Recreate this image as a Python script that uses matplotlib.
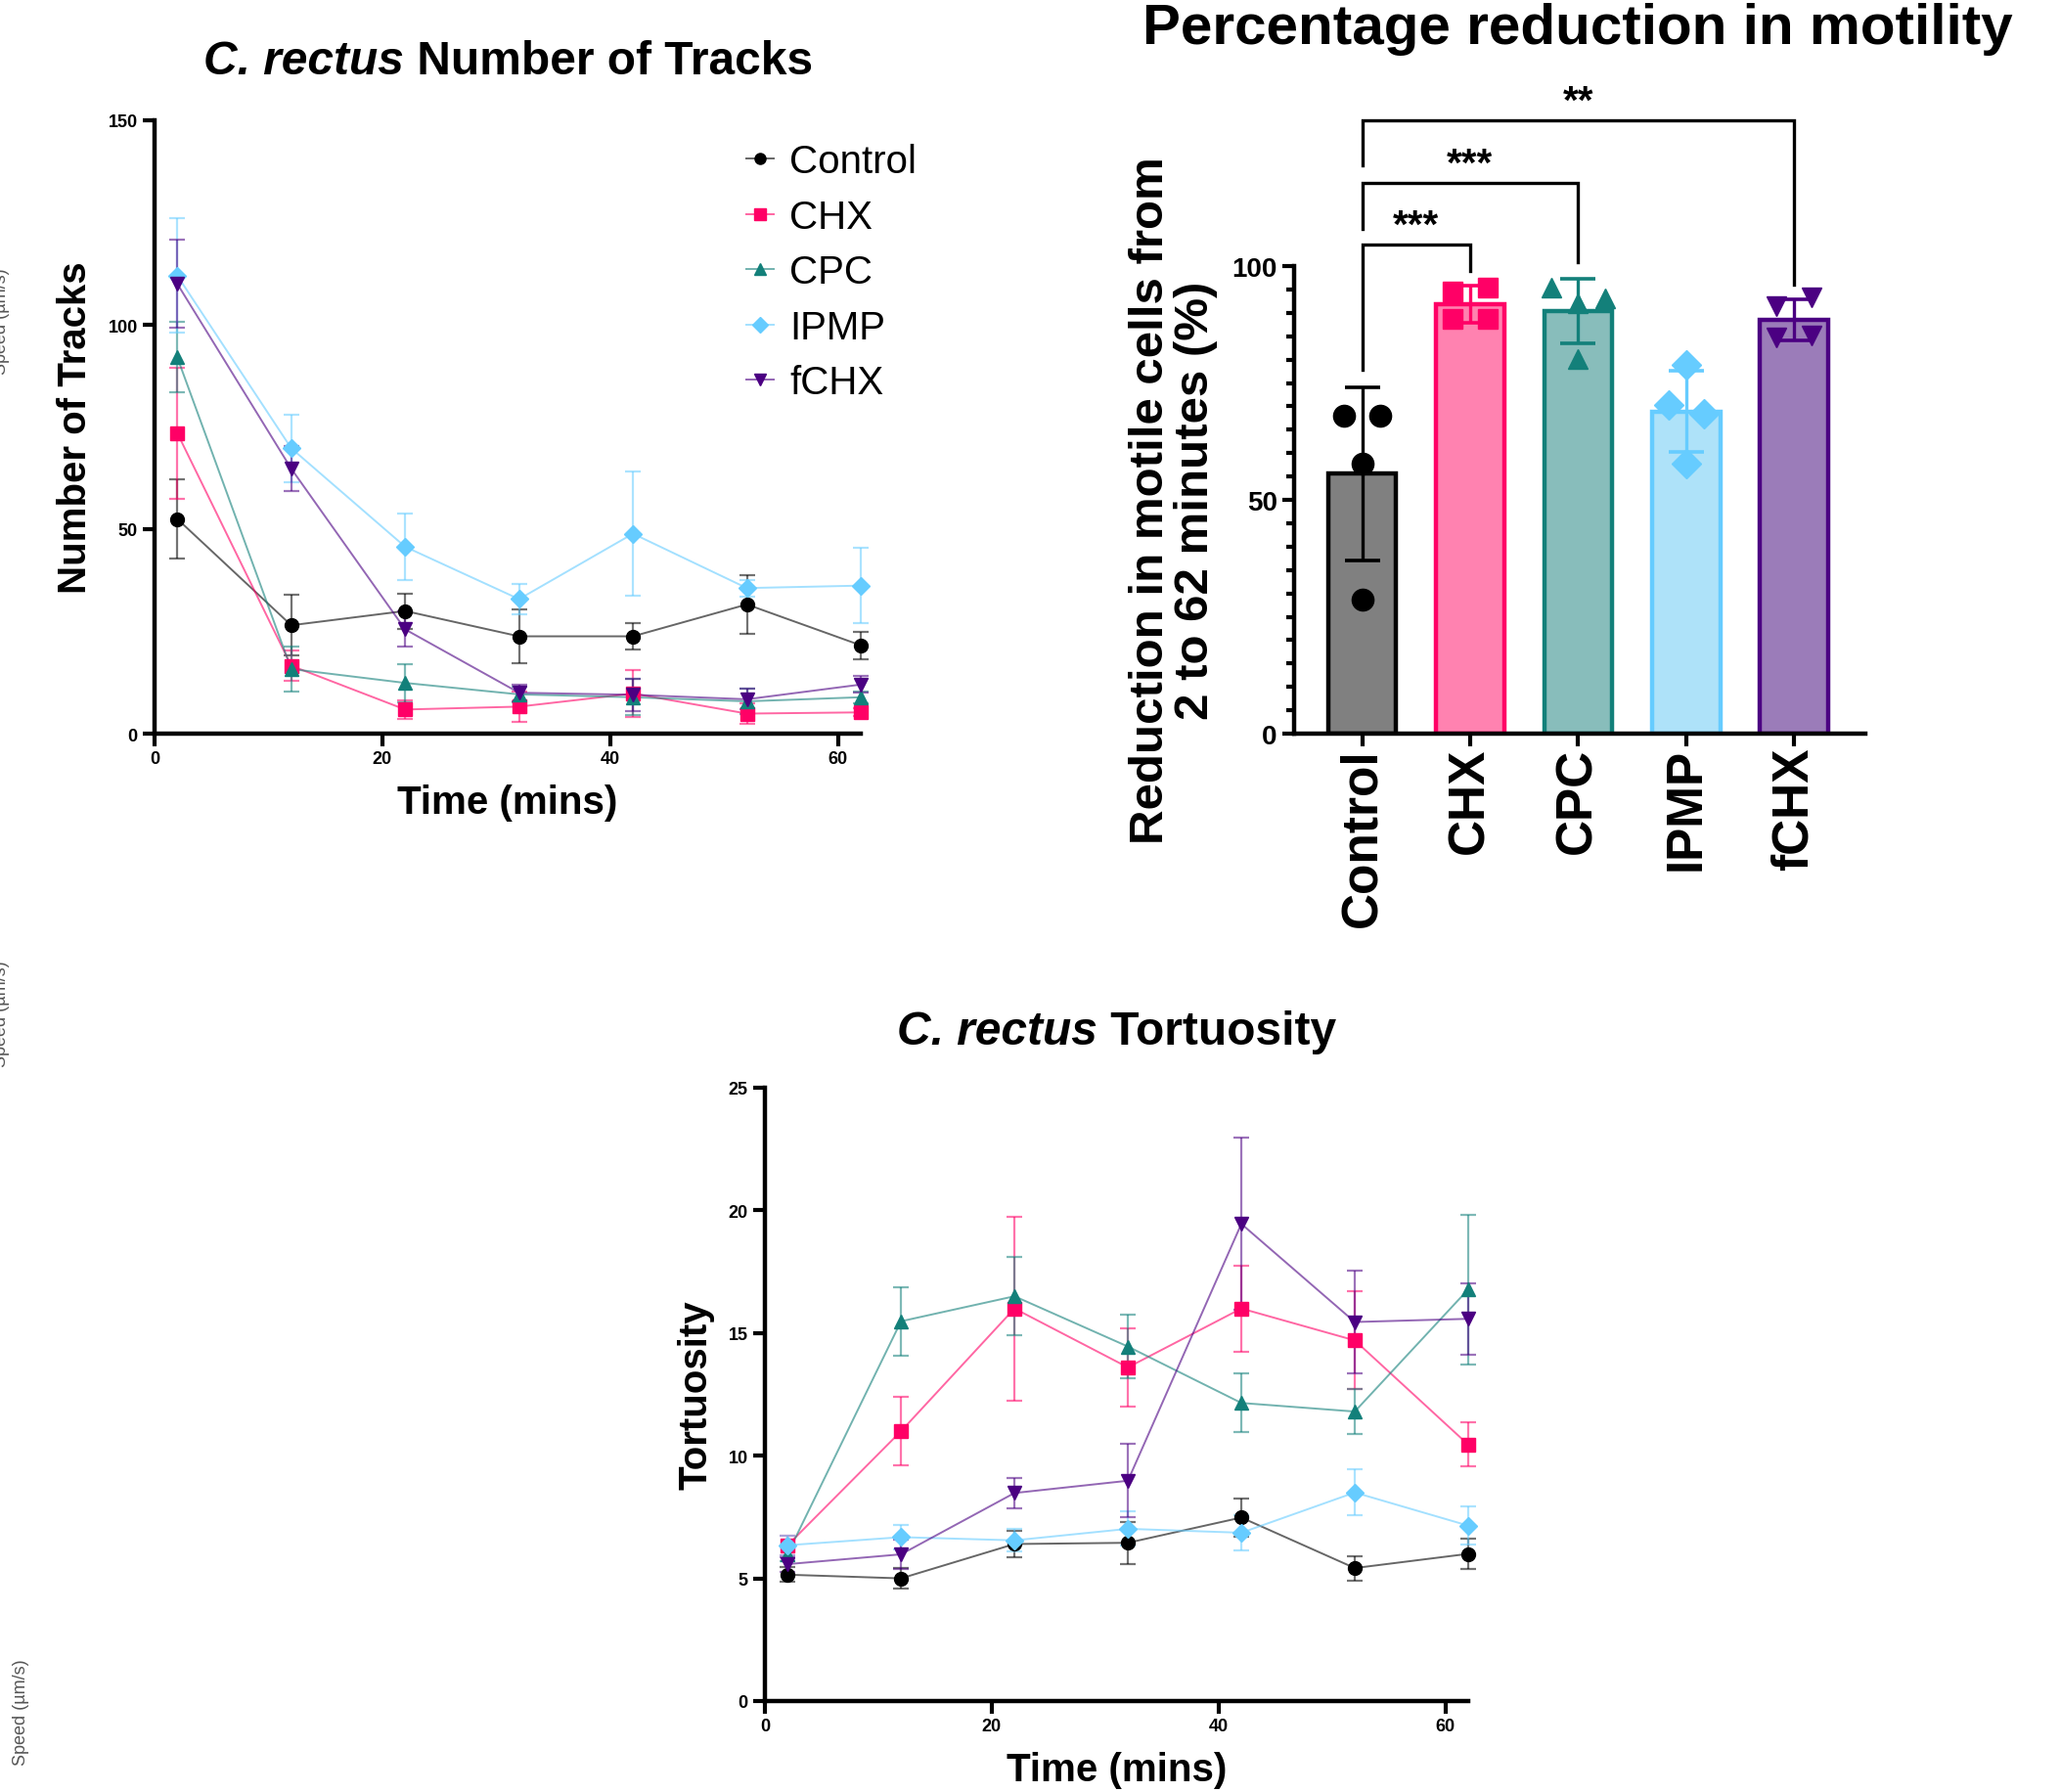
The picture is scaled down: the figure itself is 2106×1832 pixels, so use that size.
import numpy as np
import matplotlib
matplotlib.use("Agg")
import matplotlib.pyplot as plt
from matplotlib.lines import Line2D
from matplotlib.ticker import MultipleLocator

plt.rcParams["font.family"] = ["Liberation Sans", "DejaVu Sans"]

# ---- data ----
groups = ["Control", "CHX", "CPC", "IPMP", "fCHX"]
times = [2, 12, 22, 32, 42, 52, 62]

# number of tracks (mean, error)
tracks_control = [52.5, 26.5, 30.0, 23.8, 23.8, 31.6, 21.6]
tracks_control_err = [9.7, 7.4, 4.3, 6.5, 3.3, 7.2, 3.3]
tracks_chx = [73.5, 16.6, 5.9, 6.6, 9.8, 4.9, 5.2]
tracks_chx_err = [16.0, 3.8, 2.3, 3.7, 5.7, 2.4, 1.0]
tracks_cpc = [92.0, 15.8, 12.4, 9.6, 8.9, 7.9, 8.9]
tracks_cpc_err = [8.6, 5.5, 4.7, 2.0, 4.4, 3.0, 1.5]
tracks_ipmp = [112.0, 69.8, 45.7, 32.9, 48.9, 35.6, 36.2]
tracks_ipmp_err = [14.0, 8.3, 8.2, 3.8, 15.2, 2.0, 9.2]
tracks_fchx = [110.0, 64.8, 25.5, 10.0, 9.5, 8.4, 12.0]
tracks_fchx_err = [10.7, 5.5, 4.3, 2.0, 4.0, 2.5, 2.0]

# tortuosity (mean, error)
tort_control = [5.15, 5.0, 6.4, 6.45, 7.48, 5.42, 6.0]
tort_control_err = [0.3, 0.43, 0.55, 0.85, 0.78, 0.5, 0.6]
tort_chx = [6.35, 11.0, 16.0, 13.6, 16.0, 14.7, 10.45]
tort_chx_err = [0.4, 1.4, 3.75, 1.6, 1.75, 2.0, 0.9]
tort_cpc = [6.0, 15.48, 16.5, 14.45, 12.15, 11.8, 16.78]
tort_cpc_err = [0.3, 1.4, 1.6, 1.3, 1.2, 0.9, 3.05]
tort_ipmp = [6.35, 6.68, 6.55, 7.02, 6.86, 8.5, 7.15]
tort_ipmp_err = [0.4, 0.5, 0.45, 0.7, 0.72, 0.93, 0.78]
tort_fchx = [5.58, 5.98, 8.48, 8.98, 19.45, 15.45, 15.58]
tort_fchx_err = [0.3, 0.6, 0.62, 1.5, 3.5, 2.1, 1.45]

# percentage reduction in motility
red_mean = [55.6, 91.8, 90.3, 68.9, 88.5]
red_sd = [18.5, 4.0, 6.9, 8.7, 4.3]
red_control = [68.0, 68.0, 57.8, 28.7]
red_chx = [94.6, 95.4, 88.6, 88.6]
red_cpc = [95.4, 92.0, 93.0, 80.2]
red_ipmp = [70.2, 68.5, 78.9, 57.8]
red_fchx = [91.4, 93.3, 84.7, 85.1]
point_offsets = [
    [-0.165, 0.165, 0.0, 0.0],
    [-0.165, 0.165, -0.165, 0.165],
    [-0.25, 0.0, 0.25, 0.0],
    [-0.165, 0.165, 0.0, 0.0],
    [-0.165, 0.165, -0.165, 0.165],
]

line_colors = ["#000000", "#FF0066", "#13807A", "#66CCFF", "#4B0082"]
bar_fills = ["#808080", "#FF82B0", "#88BDBB", "#AEE2F9", "#9B7CB9"]
markers = ["o", "s", "^", "D", "v"]

fig = plt.figure(figsize=(21.06, 18.33), dpi=100)
W, H = 2106, 1833


def add_axes_px(left, top, right, bottom):
    return fig.add_axes([left / W, 1 - bottom / H, (right - left) / W, (bottom - top) / H])


def style_axes(ax, tick_fs):
    for s in ["top", "right"]:
        ax.spines[s].set_visible(False)
    for s in ["left", "bottom"]:
        ax.spines[s].set_linewidth(3.2)
    ax.tick_params(width=3.0, length=9, labelsize=tick_fs)
    for lab in ax.get_xticklabels() + ax.get_yticklabels():
        lab.set_fontweight("bold")


def line_panel(ax, series, errs):
    for k in range(5):
        c = line_colors[k]
        ax.errorbar(times, series[k], yerr=errs[k], fmt="none", ecolor=c,
                    elinewidth=1.6, capsize=6, capthick=1.6, alpha=0.55, clip_on=False)
        ax.plot(times, series[k], color=c, lw=1.4, alpha=0.6, clip_on=False)
        ax.plot(times, series[k], ls="none", marker=markers[k], color=c,
                markersize=10 if k != 3 else 9, clip_on=False, zorder=5)
    ax.set_xlim(0, 62)
    ax.set_xticks([0, 20, 40, 60])


# ---- panel 1: number of tracks ----
ax1 = add_axes_px(158, 124, 880, 751)
line_panel(ax1,
           [tracks_control, tracks_chx, tracks_cpc, tracks_ipmp, tracks_fchx],
           [tracks_control_err, tracks_chx_err, tracks_cpc_err, tracks_ipmp_err, tracks_fchx_err])
ax1.set_ylim(0, 150)
ax1.set_yticks([0, 50, 100, 150])
style_axes(ax1, 13)
ax1.set_xlabel("Time (mins)", fontsize=29, fontweight="bold", labelpad=12)
ax1.set_ylabel("Number of Tracks", fontsize=29, fontweight="bold", labelpad=10)

handles = []
for k in range(5):
    ln = Line2D([], [], color=line_colors[k], lw=1.4, alpha=0.6)
    mk = Line2D([], [], color=line_colors[k], ls="none", marker=markers[k], markersize=8)
    handles.append((ln, mk))
ax1.legend(handles, groups, loc="upper left", bbox_to_anchor=(0.81, 0.995),
           frameon=False, fontsize=29, handlelength=0.7, handletextpad=0.4,
           labelspacing=0.46, borderpad=0)

t1 = fig.text(208 / W, 1 - 64 / H, "C. rectus", fontsize=34.5, fontweight="bold",
              style="italic", ha="left", va="center")
ax1.annotate(" Number of Tracks", xy=(1, 0), xycoords=t1, ha="left", va="bottom",
             fontsize=34.5, fontweight="bold", annotation_clip=False)

# ---- panel 2: bar chart ----
ax2 = add_axes_px(1323, 273, 1907, 751)
xpos = np.arange(len(groups))
ax2.bar(xpos, red_mean, width=0.63, color=bar_fills, edgecolor=line_colors,
        linewidth=3.2, zorder=2)
pts = [red_control, red_chx, red_cpc, red_ipmp, red_fchx]
for k in range(5):
    ax2.errorbar(xpos[k], red_mean[k], yerr=red_sd[k], fmt="none", ecolor=line_colors[k],
                 elinewidth=2.4, capsize=13, capthick=2.6, zorder=4, clip_on=False)
    ax2.plot(xpos[k] + np.array(point_offsets[k]), pts[k], ls="none",
             marker=markers[k], color=line_colors[k],
             markersize=16 if k == 0 else 15, zorder=5, clip_on=False)
ax2.set_xlim(-0.63, 4.66)
ax2.set_ylim(0, 100)
ax2.set_yticks([0, 50, 100])
ax2.yaxis.set_minor_locator(MultipleLocator(5))
ax2.set_xticks(xpos)
ax2.set_xticklabels(groups, rotation=90)
style_axes(ax2, 20)
ax2.tick_params(axis="y", which="minor", width=3.0, length=6)
ax2.tick_params(axis="x", labelsize=37, length=9, pad=1)
for lab in ax2.get_xticklabels():
    lab.set_fontweight("bold")
ax2.set_ylabel("Reduction in motile cells from\n2 to 62 minutes (%)", fontsize=35.5,
               fontweight="bold", labelpad=10, linespacing=1.05)

# significance brackets: (target, bar y, left leg bottom, right leg bottom, label, label y)
brackets = [
    (1, 104.7, 77.9, 99.0, "***", 108.6),
    (2, 117.8, 108.0, 100.9, "***", 121.7),
    (4, 131.2, 121.6, 96.1, "**", 135.1),
]
for tgt, yb, yl, yr, lab, yt in brackets:
    ax2.plot([0, 0, tgt, tgt], [yl, yb, yb, yr], color="black", lw=2.4,
             clip_on=False, solid_joinstyle="miter")
    ax2.text(tgt / 2, yt, lab, ha="center", va="center", fontsize=29,
             fontweight="bold")
fig.text(1613 / W, 1 - 30 / H, "Percentage reduction in motility", fontsize=42,
         fontweight="bold", ha="center", va="center")

# ---- panel 3: tortuosity ----
ax3 = add_axes_px(782, 1113, 1501, 1740)
line_panel(ax3,
           [tort_control, tort_chx, tort_cpc, tort_ipmp, tort_fchx],
           [tort_control_err, tort_chx_err, tort_cpc_err, tort_ipmp_err, tort_fchx_err])
ax3.set_ylim(0, 25)
ax3.set_yticks([0, 5, 10, 15, 20, 25])
style_axes(ax3, 13)
ax3.set_xlabel("Time (mins)", fontsize=29, fontweight="bold", labelpad=12)
ax3.set_ylabel("Tortuosity", fontsize=29, fontweight="bold", labelpad=10)
t3 = fig.text(917 / W, 1 - 1056 / H, "C. rectus", fontsize=34.5, fontweight="bold",
              style="italic", ha="left", va="center")
ax3.annotate(" Tortuosity", xy=(1, 0), xycoords=t3, ha="left", va="bottom",
             fontsize=34.5, fontweight="bold", annotation_clip=False)

# leftover axis labels cut at the left edge
for xp, yp in [(2, 329), (2, 1037), (22, 1751)]:
    fig.text(xp / W, 1 - yp / H, "Speed (µm/s)", rotation=90, fontsize=13,
             color="#555555", ha="center", va="center")

fig.savefig("out.png", dpi=100)
